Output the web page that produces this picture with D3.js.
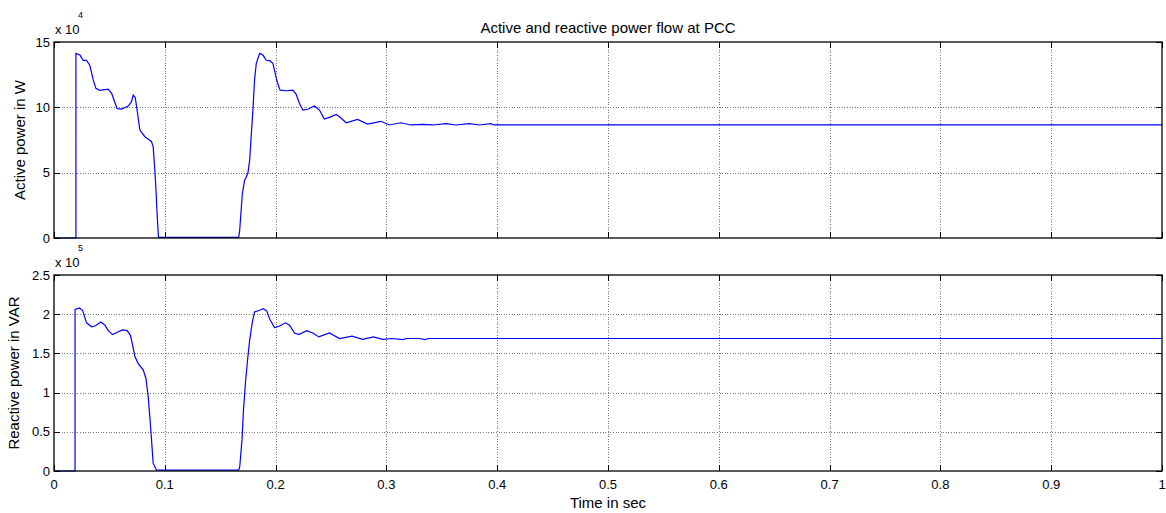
<!DOCTYPE html>
<meta charset="utf-8">
<style>
body { margin: 0; background: #fff; }
text { font-family: Arial, "Liberation Sans", sans-serif; fill: #000; }
.tick-label { font-size: 13px; }
.axis-label { font-size: 15px; }
.grid { stroke: #777; stroke-width: 1px; stroke-dasharray: 1,1.6; shape-rendering: crispEdges; }
.box { fill: none; stroke: #000; stroke-width: 1.3px; }
.tick { stroke: #000; stroke-width: 1px; shape-rendering: crispEdges; }
.trace { fill: none; stroke: #0000ff; stroke-width: 1.2px; }
</style>
<svg width="1166" height="513"></svg>
<script src="https://d3js.org/d3.v7.min.js"></script>
<script>

// time axis ticks (s)
var timeTicks = [0, 0.1, 0.2, 0.3, 0.4, 0.5, 0.6, 0.7, 0.8, 0.9, 1];

// active power, x 10^4 W
var activeTicks = [0, 5, 10, 15];
var activeTime = [0, 0.0198, 0.0198, 0.0234, 0.0264, 0.0294, 0.0324, 0.0354, 0.0378, 0.0414, 0.0489, 0.052, 0.055, 0.057, 0.061, 0.067, 0.070, 0.0715, 0.0733, 0.075, 0.0775, 0.082, 0.085, 0.088, 0.0895, 0.091, 0.0919, 0.093, 0.0943, 0.1667, 0.1676, 0.170, 0.172, 0.175, 0.1766, 0.1796, 0.181, 0.1826, 0.1856, 0.1886, 0.1916, 0.1946, 0.1976, 0.201, 0.204, 0.2096, 0.2156, 0.2186, 0.2216, 0.2246, 0.229, 0.235, 0.2396, 0.244, 0.2486, 0.2547, 0.2577, 0.2637, 0.274, 0.283, 0.295, 0.3027, 0.313, 0.322, 0.3327, 0.3417, 0.3537, 0.3627, 0.3748, 0.3838, 0.3943, 0.397, 1];
var activeValue = [0, 0, 14.13, 14.0, 13.6, 13.6, 13.2, 12.1, 11.45, 11.3, 11.4, 11.07, 10.35, 9.9, 9.87, 10.1, 10.43, 10.94, 10.76, 9.79, 8.26, 7.75, 7.57, 7.37, 6.99, 5.2, 3.9, 1.89, 0.05, 0.05, 0.6, 3.4, 4.4, 4.95, 5.97, 9.9, 12.1, 13.37, 14.13, 14.0, 13.6, 13.57, 13.37, 12.09, 11.32, 11.27, 11.32, 11.0, 10.3, 9.79, 9.85, 10.1, 9.79, 9.1, 9.23, 9.46, 9.28, 8.82, 9.08, 8.72, 8.93, 8.65, 8.82, 8.65, 8.7, 8.65, 8.75, 8.65, 8.75, 8.65, 8.75, 8.65, 8.65];

// reactive power, x 10^5 VAR
var reactiveTicks = [0, 0.5, 1, 1.5, 2, 2.5];
var reactiveTime = [0, 0.019, 0.019, 0.0228, 0.0258, 0.0294, 0.034, 0.037, 0.0423, 0.046, 0.049, 0.053, 0.057, 0.0619, 0.066, 0.069, 0.0709, 0.073, 0.076, 0.0805, 0.083, 0.085, 0.0865, 0.088, 0.0895, 0.0925, 0.094, 0.1667, 0.1676, 0.1697, 0.171, 0.173, 0.175, 0.1766, 0.179, 0.181, 0.1856, 0.189, 0.192, 0.195, 0.199, 0.2036, 0.209, 0.2126, 0.217, 0.221, 0.228, 0.2336, 0.239, 0.2486, 0.2577, 0.269, 0.2787, 0.2883, 0.2967, 0.305, 0.315, 0.318, 0.33, 0.335, 0.338, 1];
var reactiveValue = [0, 0, 2.06, 2.08, 2.05, 1.89, 1.84, 1.85, 1.90, 1.86, 1.79, 1.74, 1.77, 1.80, 1.79, 1.73, 1.61, 1.46, 1.37, 1.29, 1.18, 0.95, 0.69, 0.40, 0.10, 0.01, 0.01, 0.01, 0.05, 0.40, 0.78, 1.16, 1.46, 1.67, 1.90, 2.03, 2.05, 2.07, 2.04, 1.93, 1.83, 1.85, 1.89, 1.86, 1.76, 1.74, 1.79, 1.76, 1.71, 1.76, 1.69, 1.72, 1.68, 1.71, 1.68, 1.69, 1.675, 1.69, 1.69, 1.675, 1.69, 1.69];

var svg = d3.select("svg");

var x = d3.scaleLinear().domain([0, 1]).range([54, 1162]);

var panels = [
  { top: 42, bottom: 238, domain: [0, 15], ticks: activeTicks, t: activeTime, v: activeValue,
    label: "Active power in W", labelX: 25, exp: "4", xLabels: false },
  { top: 275, bottom: 471, domain: [0, 2.5], ticks: reactiveTicks, t: reactiveTime, v: reactiveValue,
    label: "Reactive power in VAR", labelX: 19, exp: "5", xLabels: true }
];

panels.forEach(function(p) {
  var y = d3.scaleLinear().domain(p.domain).range([p.bottom, p.top]);
  var g = svg.append("g");

  // grid
  g.selectAll(".vgrid").data(timeTicks.slice(1, -1)).enter().append("line")
      .attr("class", "grid")
      .attr("x1", function(d) { return Math.round(x(d)) + 0.5; })
      .attr("x2", function(d) { return Math.round(x(d)) + 0.5; })
      .attr("y1", p.top).attr("y2", p.bottom);
  g.selectAll(".hgrid").data(p.ticks.slice(1, -1)).enter().append("line")
      .attr("class", "grid")
      .attr("y1", function(d) { return Math.round(y(d)) + 0.5; })
      .attr("y2", function(d) { return Math.round(y(d)) + 0.5; })
      .attr("x1", x.range()[0]).attr("x2", x.range()[1]);

  // trace
  var pts = p.t.map(function(t, i) { return [t, p.v[i]]; });
  g.append("path")
      .attr("class", "trace")
      .attr("d", d3.line().x(function(d) { return x(d[0]); }).y(function(d) { return y(d[1]); })(pts));

  // inward ticks on all four sides
  timeTicks.forEach(function(d) {
    var xx = Math.round(x(d)) + 0.5;
    g.append("line").attr("class", "tick").attr("x1", xx).attr("x2", xx).attr("y1", p.bottom).attr("y2", p.bottom - 6);
    g.append("line").attr("class", "tick").attr("x1", xx).attr("x2", xx).attr("y1", p.top).attr("y2", p.top + 6);
  });
  p.ticks.forEach(function(d) {
    var yy = Math.round(y(d)) + 0.5;
    g.append("line").attr("class", "tick").attr("y1", yy).attr("y2", yy).attr("x1", x.range()[0]).attr("x2", x.range()[0] + 6);
    g.append("line").attr("class", "tick").attr("y1", yy).attr("y2", yy).attr("x1", x.range()[1]).attr("x2", x.range()[1] - 6);
  });

  g.append("rect").attr("class", "box")
      .attr("x", x.range()[0]).attr("y", p.top)
      .attr("width", x.range()[1] - x.range()[0]).attr("height", p.bottom - p.top);

  // y tick labels
  g.selectAll(".ylab").data(p.ticks).enter().append("text")
      .attr("class", "tick-label")
      .attr("x", 50).attr("y", function(d) { return y(d) + 4.5; })
      .attr("text-anchor", "end")
      .text(function(d) { return d; });

  // exponent
  g.append("text").attr("class", "tick-label").attr("x", 55).attr("y", p.top - 8).text("x 10");
  g.append("text").style("font-size", "9px").attr("x", 78).attr("y", p.top - 24).text(p.exp);

  g.append("text").attr("class", "axis-label")
      .attr("transform", "translate(" + p.labelX + "," + (p.top + p.bottom) / 2 + ") rotate(-90)")
      .attr("text-anchor", "middle")
      .text(p.label);

  if (p.xLabels) {
    g.selectAll(".xlab").data(timeTicks).enter().append("text")
        .attr("class", "tick-label")
        .attr("x", function(d) { return x(d); }).attr("y", p.bottom + 18)
        .attr("text-anchor", "middle")
        .text(function(d) { return d; });
  }
});

svg.append("text").attr("class", "axis-label")
    .attr("x", (x.range()[0] + x.range()[1]) / 2).attr("y", 33)
    .attr("text-anchor", "middle")
    .text("Active and reactive power flow at PCC");

svg.append("text").attr("class", "axis-label")
    .attr("x", (x.range()[0] + x.range()[1]) / 2).attr("y", 508)
    .attr("text-anchor", "middle")
    .text("Time in sec");

</script>
